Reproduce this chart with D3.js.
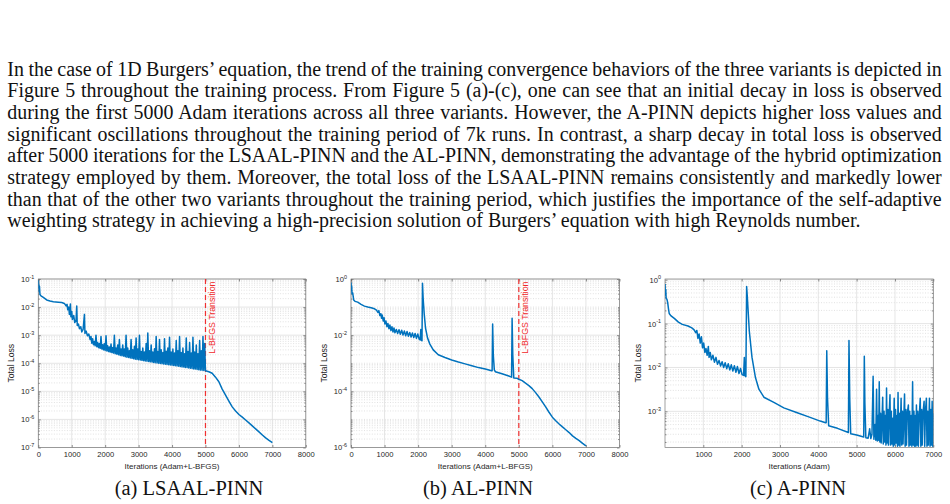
<!DOCTYPE html>
<html>
<head>
<meta charset="utf-8">
<script src="https://cdn.jsdelivr.net/npm/d3@7"></script>
<style>
  body { margin: 0; background: #fff; }
  svg { display: block; }
</style>
</head>
<body>
<svg id="fig" width="950" height="504"></svg>
<script>
// paragraph above the figure
const paragraphLines = [
    "In the case of 1D Burgers’ equation, the trend of the training convergence behaviors of the three variants is depicted in",
    "Figure 5 throughout the training process. From Figure 5 (a)-(c), one can see that an initial decay in loss is observed",
    "during the first 5000 Adam iterations across all three variants. However, the A-PINN depicts higher loss values and",
    "significant oscillations throughout the training period of 7k runs. In contrast, a sharp decay in total loss is observed",
    "after 5000 iterations for the LSAAL-PINN and the AL-PINN, demonstrating the advantage of the hybrid optimization",
    "strategy employed by them. Moreover, the total loss of the LSAAL-PINN remains consistently and markedly lower",
    "than that of the other two variants throughout the training period, which justifies the importance of the self-adaptive",
    "weighting strategy in achieving a high-precision solution of Burgers’ equation with high Reynolds number."
];

const captions = ["(a) LSAAL-PINN", "(b) AL-PINN", "(c) A-PINN"];

// tick values
const xTicksFull = [0, 1000, 2000, 3000, 4000, 5000, 6000, 7000, 8000];
const xTicksAdam = [1000, 2000, 3000, 4000, 5000, 6000, 7000];
const yTicksA = [1e-7, 1e-6, 1e-5, 1e-4, 1e-3, 1e-2, 1e-1];
const yTicksB = [1e-6, 1e-4, 1e-2, 1e0];
const yTicksC = [1e-3, 1e-2, 1e-1, 1e0];

const lbfgsStart = 5000;

// (a) LSAAL-PINN total loss, [iteration, loss]
const lsaalLoss = [
    [0, 9e-2], [8, 5e-2], [15, 6.5e-2], [25, 3.5e-2], [35, 5.5e-2], [50, 2.8e-2], [80, 2.5e-2],
    [150, 2.2e-2], [250, 1.8e-2], [350, 1.65e-2], [450, 1.55e-2], [600, 1.5e-2], [700, 1.45e-2],
    [780, 1.35e-2], [830, 1.1e-2], [860, 1.25e-2], [880, 8e-3], [910, 1.0e-2], [930, 5.5e-3],
    [960, 1.3e-2], [975, 4.5e-3], [1000, 7e-3], [1020, 3.6e-3], [1060, 5e-3], [1090, 2.8e-3],
    [1130, 3.5e-3], [1150, 1.1e-2], [1165, 2.2e-3], [1200, 2.5e-3], [1230, 1.7e-3], [1270, 2e-3],
    [1300, 1.3e-3], [1340, 1.6e-3], [1380, 5.5e-3], [1395, 1.15e-3], [1430, 1.4e-3], [1470, 9.5e-4],
    [1510, 1.1e-3], [1550, 7e-4], [1575, 9e-4],
    [1600, 5.2e-4], [1625, 7.5e-4], [1650, 4.6e-4], [1675, 6e-4], [1700, 4.2e-4], [1725, 1.0e-3],
    [1750, 3.9e-4], [1775, 5.5e-4], [1800, 3.6e-4], [1825, 5e-4], [1850, 3.4e-4], [1875, 9e-4],
    [1900, 3.2e-4], [1925, 4.6e-4], [1950, 3.0e-4], [1975, 5e-4], [2000, 2.85e-4], [2025, 9.5e-4],
    [2050, 2.75e-4], [2075, 4.2e-4], [2100, 2.6e-4], [2125, 3.8e-4], [2150, 2.5e-4], [2175, 4.8e-4],
    [2200, 2.4e-4], [2225, 3.6e-4], [2250, 2.3e-4], [2275, 1.0e-3], [2300, 2.2e-4], [2325, 3.5e-4],
    [2350, 2.1e-4], [2375, 4.5e-4], [2400, 2.0e-4], [2425, 7e-4], [2450, 1.9e-4], [2475, 3.2e-4],
    [2500, 1.85e-4], [2525, 4.5e-4], [2550, 1.8e-4], [2575, 3.2e-4], [2600, 1.7e-4], [2625, 1.0e-3],
    [2650, 1.65e-4], [2675, 3.5e-4], [2700, 1.6e-4], [2725, 2.8e-4], [2750, 1.55e-4], [2775, 7e-4],
    [2800, 1.5e-4], [2825, 3e-4], [2850, 1.45e-4], [2875, 4e-4], [2900, 1.4e-4], [2925, 8e-4],
    [2950, 1.37e-4], [2975, 3.2e-4], [3000, 1.33e-4], [3025, 1.0e-3], [3050, 1.3e-4], [3075, 2.6e-4],
    [3100, 1.27e-4], [3125, 3.5e-4], [3150, 1.24e-4], [3175, 2.5e-4], [3200, 1.2e-4], [3225, 5e-4],
    [3250, 1.17e-4], [3275, 1.2e-3], [3300, 1.15e-4], [3325, 2.8e-4], [3350, 1.12e-4], [3375, 4.5e-4],
    [3400, 1.1e-4], [3425, 2.5e-4], [3450, 1.07e-4], [3475, 3.3e-4], [3500, 1.05e-4], [3525, 9e-4],
    [3550, 1.03e-4], [3575, 2.6e-4], [3600, 1.0e-4], [3625, 7e-4], [3650, 9.8e-5], [3675, 3e-4],
    [3700, 9.6e-5], [3725, 2.4e-4], [3750, 9.4e-5], [3775, 7.5e-4], [3800, 9.2e-5], [3825, 2.7e-4],
    [3850, 9.0e-5], [3875, 3.5e-4], [3900, 8.8e-5], [3925, 8.5e-4], [3950, 8.7e-5], [3975, 2.5e-4],
    [4000, 8.5e-5], [4025, 3.2e-4], [4050, 8.3e-5], [4075, 2.3e-4], [4100, 8.1e-5], [4125, 6.5e-4],
    [4150, 8.0e-5], [4175, 2.8e-4], [4200, 7.8e-5], [4225, 9e-4], [4250, 7.6e-5], [4275, 2.4e-4],
    [4300, 7.4e-5], [4325, 3.5e-4], [4350, 7.3e-5], [4375, 2.2e-4], [4400, 7.1e-5], [4425, 8e-4],
    [4450, 7.0e-5], [4475, 2.6e-4], [4500, 6.8e-5], [4525, 5.5e-4], [4550, 6.6e-5], [4575, 2.3e-4],
    [4600, 6.5e-5], [4625, 8.5e-4], [4650, 6.3e-5], [4675, 2.5e-4], [4700, 6.2e-5], [4725, 4.5e-4],
    [4750, 6.0e-5], [4775, 2.2e-4], [4800, 5.9e-5], [4825, 6.5e-4], [4850, 5.7e-5], [4875, 2.8e-4],
    [4900, 5.6e-5], [4925, 9e-4], [4950, 5.5e-5], [4975, 5e-4], [5000, 5.4e-5],
    [5100, 5.0e-5], [5200, 4.4e-5], [5300, 3.2e-5], [5400, 2.2e-5], [5500, 1.2e-5], [5600, 7.4e-6],
    [5700, 4.5e-6], [5800, 2.8e-6], [5900, 2.0e-6], [6000, 1.5e-6], [6100, 1.2e-6], [6200, 9.5e-7],
    [6300, 7.5e-7], [6400, 5.9e-7], [6500, 4.6e-7], [6600, 3.6e-7], [6700, 2.8e-7], [6800, 2.2e-7],
    [6900, 1.8e-7], [7000, 1.5e-7]
];

// (b) AL-PINN total loss
const alLoss = [
    [0, 0.75], [10, 0.4], [20, 0.55], [30, 0.3], [50, 0.32], [80, 0.18], [120, 0.16], [200, 0.15],
    [300, 0.125], [400, 0.108], [500, 0.1], [600, 0.095], [700, 0.087], [760, 0.078], [800, 0.065],
    [830, 0.075], [860, 0.05], [890, 0.058], [910, 0.04], [930, 0.052], [960, 0.032], [985, 0.042],
    [1010, 0.025], [1040, 0.032], [1070, 0.02], [1100, 0.026], [1130, 0.017], [1160, 0.023],
    [1190, 0.0145], [1220, 0.02], [1250, 0.013], [1280, 0.018], [1310, 0.0122], [1350, 0.016],
    [1390, 0.0115], [1430, 0.0155], [1470, 0.0108], [1510, 0.015], [1550, 0.0102], [1590, 0.014],
    [1630, 0.0096], [1670, 0.0135], [1710, 0.0091], [1750, 0.0125], [1790, 0.0086], [1830, 0.012],
    [1870, 0.0082], [1910, 0.0115], [1950, 0.0077], [1990, 0.011], [2030, 0.0072], [2060, 0.0068],
    [2080, 0.016], [2095, 0.0066], [2115, 0.0063], [2130, 0.7], [2150, 0.2], [2180, 0.06],
    [2220, 0.018], [2280, 0.008], [2350, 0.0048], [2450, 0.003], [2600, 0.002], [2800, 0.0016],
    [3000, 0.0013], [3200, 0.0011], [3400, 0.00095], [3600, 0.00082], [3800, 0.0007], [4000, 0.00062],
    [4190, 0.00054], [4205, 0.00054], [4220, 0.025], [4240, 0.002], [4270, 0.00058], [4300, 0.0005],
    [4500, 0.00042], [4700, 0.00035], [4785, 0.00032], [4800, 0.04], [4820, 0.002], [4850, 0.0003],
    [4950, 0.00029], [5000, 0.00027], [5100, 2.4e-4], [5200, 1.95e-4], [5300, 1.6e-4], [5400, 1.25e-4],
    [5500, 9e-5], [5600, 6.3e-5], [5700, 4.2e-5], [5800, 2.8e-5], [5900, 1.8e-5], [6000, 1.2e-5],
    [6100, 9e-6], [6200, 6.9e-6], [6300, 5.4e-6], [6400, 4.3e-6], [6500, 3.4e-6], [6600, 2.6e-6],
    [6700, 2.1e-6], [6800, 1.75e-6], [6900, 1.4e-6], [7000, 1.15e-6]
];

// (c) A-PINN total loss (Adam only)
const aLoss = [
    [0, 0.8], [10, 0.45], [20, 0.6], [30, 0.38], [50, 0.36], [70, 0.3], [90, 0.22], [110, 0.17],
    [150, 0.152], [250, 0.13], [350, 0.108], [450, 0.096], [600, 0.088], [700, 0.08], [760, 0.072],
    [800, 0.062], [830, 0.07], [860, 0.046], [890, 0.058], [920, 0.036], [950, 0.05], [980, 0.028],
    [1010, 0.036], [1040, 0.022], [1070, 0.027], [1100, 0.019], [1130, 0.03], [1150, 0.017],
    [1180, 0.022], [1210, 0.015], [1250, 0.019], [1290, 0.0132], [1330, 0.017], [1370, 0.0118],
    [1410, 0.0145], [1450, 0.0108], [1490, 0.0135], [1530, 0.01], [1570, 0.0128], [1610, 0.0094],
    [1650, 0.0122], [1690, 0.0088], [1730, 0.0115], [1770, 0.0083], [1810, 0.011], [1850, 0.0078],
    [1890, 0.0105], [1930, 0.0073], [1970, 0.0095], [2010, 0.0069], [2050, 0.0066], [2070, 0.017],
    [2085, 0.0065], [2110, 0.0062], [2130, 0.7], [2150, 0.38], [2200, 0.067], [2270, 0.017],
    [2360, 0.0059], [2450, 0.0032], [2580, 0.0021], [2840, 0.0016], [3100, 0.0012], [3450, 0.00093],
    [3750, 0.00075], [4050, 0.0006], [4190, 0.00055], [4205, 0.00055], [4220, 0.024], [4240, 0.002],
    [4270, 0.00047], [4500, 0.00041], [4785, 0.00033], [4800, 0.041], [4820, 0.002], [4845, 0.00031],
    [5000, 0.00029], [5185, 0.00026], [5200, 0.018], [5215, 0.0015], [5240, 0.00025], [5300, 2.45e-4],
    [5340, 4e-4], [5370, 2.4e-4], [5400, 3e-4], [5430, 6.3e-3], [5450, 2.3e-4], [5480, 5e-4],
    [5500, 2.2e-4], [5520, 3.2e-3], [5540, 2.1e-4], [5560, 8e-4], [5575, 2.2e-4], [5590, 4.7e-3],
    [5605, 2e-4], [5625, 9e-4], [5640, 1.9e-4], [5660, 6e-4], [5680, 2.1e-3], [5695, 1.8e-4],
    [5715, 1e-3], [5730, 2e-4], [5750, 8e-4], [5765, 1.7e-4], [5780, 3.4e-3], [5795, 1.9e-4],
    [5815, 1.1e-3], [5830, 1.7e-4], [5850, 9e-4], [5870, 2.4e-3], [5885, 1.7e-4], [5905, 1e-3],
    [5920, 1.8e-4], [5940, 7e-4], [5955, 1.6e-4], [5980, 2e-3], [5995, 1.7e-4], [6015, 1.1e-3],
    [6030, 1.9e-4], [6050, 8e-4], [6065, 1.6e-4], [6080, 2.7e-3], [6095, 1.7e-4], [6115, 9e-4],
    [6130, 1.6e-4], [6160, 2e-3], [6175, 1.7e-4], [6195, 1e-3], [6210, 1.8e-4], [6230, 7e-4],
    [6250, 2.5e-3], [6265, 1.6e-4], [6285, 1.1e-3], [6300, 1.7e-4], [6320, 9e-4], [6350, 1.4e-3],
    [6365, 1.6e-4], [6385, 1e-3], [6400, 1.7e-4], [6420, 8e-4], [6440, 1.6e-4], [6460, 4.7e-3],
    [6475, 1.7e-4], [6495, 1e-3], [6510, 1.6e-4], [6530, 8e-4], [6545, 1.6e-4], [6560, 1.4e-3],
    [6575, 1.7e-4], [6595, 1e-3], [6610, 1.6e-4], [6630, 7e-4], [6660, 2e-3], [6675, 1.6e-4],
    [6695, 1.1e-3], [6710, 1.7e-4], [6730, 9e-4], [6760, 1.7e-3], [6775, 1.6e-4], [6795, 1e-3],
    [6820, 2e-3], [6835, 1.6e-4], [6855, 1e-3], [6870, 1.7e-4], [6900, 2e-3], [6915, 1.6e-4],
    [6935, 1.1e-3], [6950, 1.7e-4], [6970, 1.7e-3], [6985, 1.6e-4], [7000, 9e-4]
];

const svg = d3.select('#fig');
const sansFont = '"Liberation Sans", Arial, Helvetica, sans-serif';
const serifFont = '"Liberation Serif", "Times New Roman", serif';
const inkColor = '#262626';

// ---- paragraph, justified line by line ----
let paraFontSize = 19.95;
let paraLeft = 7.3, paraRight = 941.7;
let para = svg.append('g')
    .attr('font-family', serifFont)
    .attr('font-size', paraFontSize)
    .attr('fill', '#111');

paragraphLines.forEach((line, i) => {
    let t = para.append('text')
        .attr('x', paraLeft)
        .attr('y', 75.5 + i * 21.7)
        .text(line);
    if (i < paragraphLines.length - 1) {
        let w = t.node().getComputedTextLength();
        let gaps = line.split(' ').length - 1;
        t.attr('word-spacing', (paraRight - paraLeft - w) / gaps);
    }
});

// ---- charts ----
const plotTop = 279, plotBottom = 447.5;

function supLabel(sel) {
    sel.each(function(d) {
        let t = d3.select(this);
        let e = Math.round(Math.log10(d));
        t.text(null);
        t.append('tspan').text('10');
        t.append('tspan').attr('dy', -3.4).attr('font-size', 5.4).text(e);
    });
}

function buildLossChart(opts) {
    let x = d3.scaleLinear().domain(opts.xDomain).range([opts.left, opts.right]);
    let y = d3.scaleLog().domain(opts.yDomain).range([plotBottom, plotTop]);
    let g = svg.append('g');

    g.append('clipPath').attr('id', 'clip-' + opts.id)
        .append('rect')
        .attr('x', opts.left).attr('y', plotTop)
        .attr('width', opts.right - opts.left).attr('height', plotBottom - plotTop);

    let isMajor = v => opts.yTicks.some(t => Math.abs(Math.log10(t) - Math.log10(v)) < 1e-6);
    let minorY = y.ticks().filter(v => !isMajor(v));

    // grid
    let grid = g.append('g');
    grid.selectAll('.minor').data(minorY).join('line')
        .attr('x1', opts.left).attr('x2', opts.right)
        .attr('y1', d => y(d)).attr('y2', d => y(d))
        .attr('stroke', '#cfcfcf').attr('stroke-width', 0.6).attr('stroke-dasharray', '1,1.6');
    grid.selectAll('.majorY').data(opts.yTicks).join('line')
        .attr('x1', opts.left).attr('x2', opts.right)
        .attr('y1', d => y(d)).attr('y2', d => y(d))
        .attr('stroke', '#dedede').attr('stroke-width', 0.8);
    grid.selectAll('.majorX').data(opts.xTicks).join('line')
        .attr('x1', d => x(d)).attr('x2', d => x(d))
        .attr('y1', plotTop).attr('y2', plotBottom)
        .attr('stroke', '#dedede').attr('stroke-width', 0.8);

    // axes
    let axes = g.append('g')
        .attr('font-family', sansFont);

    axes.append('g').attr('transform', `translate(0,${plotBottom})`)
        .call(d3.axisBottom(x).tickValues(opts.xTicks).tickSize(-2.5).tickPadding(4).tickFormat(d3.format('d')));
    axes.append('g').attr('transform', `translate(0,${plotTop})`)
        .call(d3.axisTop(x).tickValues(opts.xTicks).tickSize(-2.5).tickFormat(''));

    let yAxis = axes.append('g').attr('transform', `translate(${opts.left},0)`)
        .call(d3.axisLeft(y).tickValues(opts.yTicks).tickSize(-2.5).tickPadding(4));
    axes.append('g').attr('transform', `translate(${opts.left},0)`)
        .call(d3.axisLeft(y).tickValues(minorY).tickSize(-1.5).tickFormat(''));
    axes.append('g').attr('transform', `translate(${opts.right},0)`)
        .call(d3.axisRight(y).tickValues(opts.yTicks).tickSize(-2.5).tickFormat(''));
    axes.append('g').attr('transform', `translate(${opts.right},0)`)
        .call(d3.axisRight(y).tickValues(minorY).tickSize(-1.5).tickFormat(''));

    axes.selectAll('.domain').remove();
    axes.selectAll('.tick line').attr('stroke', inkColor).attr('stroke-width', 0.5);
    axes.selectAll('.tick text').attr('fill', inkColor).attr('font-size', 7.6).attr('font-family', sansFont);
    yAxis.selectAll('.tick text').call(supLabel);

    g.append('rect')
        .attr('x', opts.left).attr('y', plotTop)
        .attr('width', opts.right - opts.left).attr('height', plotBottom - plotTop)
        .attr('fill', 'none').attr('stroke', '#7a7a7a').attr('stroke-width', 0.7);

    // L-BFGS marker
    if (opts.transition) {
        let tx = x(lbfgsStart);
        g.append('line')
            .attr('x1', tx).attr('x2', tx).attr('y1', plotTop).attr('y2', plotBottom)
            .attr('stroke', '#f03030').attr('stroke-width', 1.2).attr('stroke-dasharray', '5,3');
        g.append('text')
            .attr('transform', `translate(${tx + 9.5},${plotTop + 2.5}) rotate(-90)`)
            .attr('text-anchor', 'end')
            .attr('font-family', sansFont).attr('font-size', 8.8)
            .attr('fill', '#f02828')
            .text('L-BFGS Transition');
    }

    // loss curve
    let line = d3.line().x(d => x(d[0])).y(d => y(d[1]));
    g.append('path')
        .datum(opts.data)
        .attr('clip-path', `url(#clip-${opts.id})`)
        .attr('d', line)
        .attr('fill', 'none')
        .attr('stroke', '#0072bd')
        .attr('stroke-width', 1.5)
        .attr('stroke-linejoin', 'round');

    // titles
    let cx = (opts.left + opts.right) / 2;
    g.append('text')
        .attr('x', cx).attr('y', 469)
        .attr('text-anchor', 'middle')
        .attr('font-family', sansFont).attr('font-size', 8).attr('fill', inkColor)
        .text(opts.xTitle);
    g.append('text')
        .attr('transform', `translate(${opts.left - 24},${(plotTop + plotBottom) / 2}) rotate(-90)`)
        .attr('text-anchor', 'middle')
        .attr('font-family', sansFont).attr('font-size', 8.6).attr('fill', inkColor)
        .text('Total Loss');
    g.append('text')
        .attr('x', opts.captionX).attr('y', 494.5)
        .attr('text-anchor', 'middle')
        .attr('font-family', serifFont).attr('font-size', 20.5).attr('fill', '#111')
        .text(opts.caption);
}

buildLossChart({
    id: 'a', left: 38.3, right: 305.8,
    xDomain: [0, 8000], yDomain: [1e-7, 1e-1],
    xTicks: xTicksFull, yTicks: yTicksA,
    data: lsaalLoss, transition: true,
    xTitle: 'Iterations (Adam+L-BFGS)',
    caption: captions[0], captionX: 189
});

buildLossChart({
    id: 'b', left: 351, right: 619.5,
    xDomain: [0, 8000], yDomain: [1e-6, 1e0],
    xTicks: xTicksFull, yTicks: yTicksB,
    data: alLoss, transition: true,
    xTitle: 'Iterations (Adam+L-BFGS)',
    caption: captions[1], captionX: 478
});

buildLossChart({
    id: 'c', left: 665, right: 933.3,
    xDomain: [0, 7000], yDomain: [1.5e-4, 1.04],
    xTicks: xTicksAdam, yTicks: yTicksC,
    data: aLoss, transition: false,
    xTitle: 'Iterations (Adam)',
    caption: captions[2], captionX: 798
});
</script>
</body>
</html>
